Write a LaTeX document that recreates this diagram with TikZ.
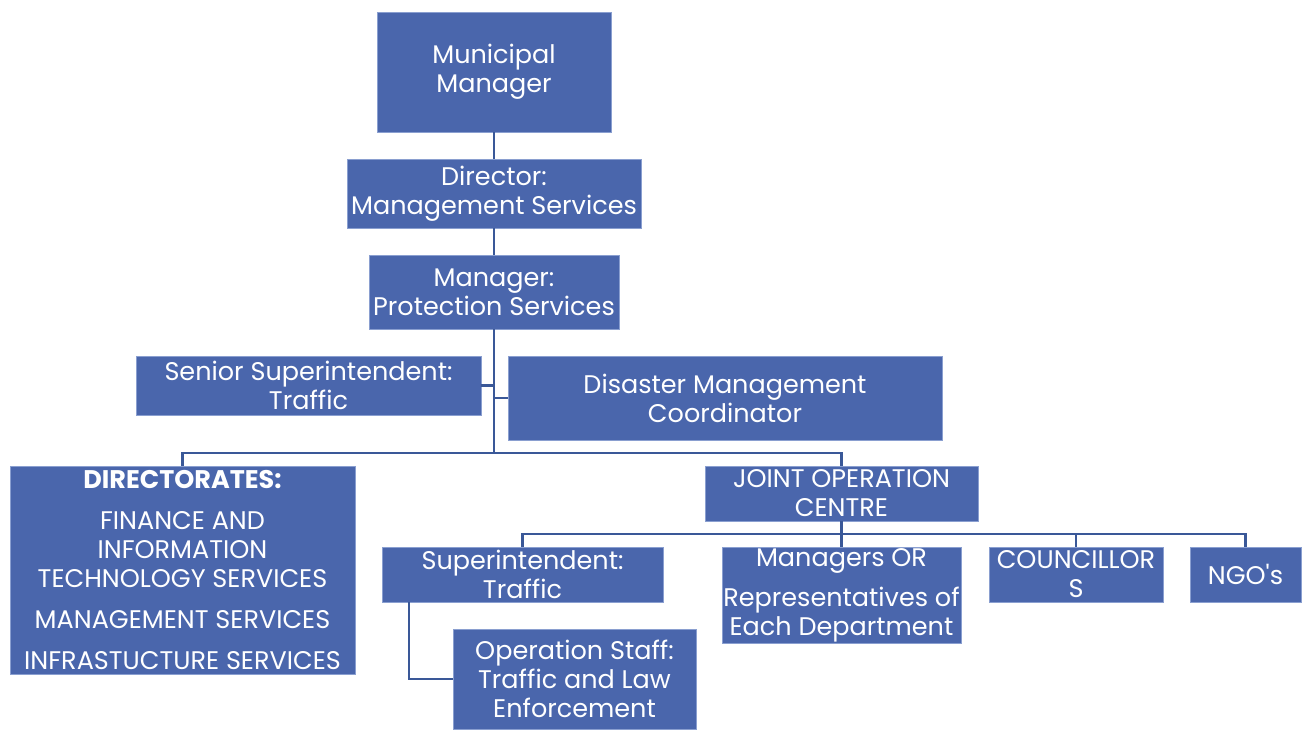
\documentclass[tikz,border=0pt]{standalone}
\usepackage{fontspec}
\setmainfont{Poppins}
\definecolor{boxfill}{HTML}{4A66AC}
\definecolor{boxedge}{HTML}{8A9FD0}
\definecolor{wire}{HTML}{3A5898}
\begin{document}
\begin{tikzpicture}[x=1pt,y=-1pt,
  unit/.style={draw=boxedge, line width=0.6pt, fill=boxfill, text=white,
    align=center, inner sep=0pt, font=\fontsize{25.5}{29}\selectfont},
  link/.style={draw=wire, line width=2.4pt}]
\useasboundingbox (0,0) rectangle (1304,729);

% boxes, sized from their corners
\node[unit, minimum width=234, minimum height=120] (mm)  at (494,72)    {Municipal\\Manager};
\node[unit, minimum width=294, minimum height=69]  (dir) at (494,193.5) {Director:\\Management Services};
\node[unit, minimum width=250, minimum height=74]  (mgr) at (494,292)   {Manager:\\Protection Services};
\node[unit, minimum width=345, minimum height=59]  (sst) at (308.5,385.5) {Senior Superintendent:\\Traffic};
\node[unit, minimum width=434, minimum height=84]  (dmc) at (725,398)   {Disaster Management\\Coordinator};
\node[unit, minimum width=345, minimum height=208] (dirs) at (182.5,570)
  {\textbf{DIRECTORATES:}\\[12pt]FINANCE AND\\INFORMATION\\TECHNOLOGY SERVICES\\[12pt]MANAGEMENT SERVICES\\[12pt]INFRASTUCTURE SERVICES};
\node[unit, minimum width=273, minimum height=55]  (joc) at (841.5,493.5) {JOINT OPERATION\\CENTRE};
\node[unit, minimum width=281, minimum height=55]  (sup) at (522.5,574.5) {Superintendent:\\Traffic};
\node[unit, minimum width=239, minimum height=96]  (rep) at (841.5,595)   {Managers OR\\[11pt]Representatives of\\Each Department};
\node[unit, minimum width=174, minimum height=55]  (cou) at (1076,574.5)  {COUNCILLOR\\S};
\node[unit, minimum width=111, minimum height=55]  (ngo) at (1245.5,574.5) {NGO\textquotesingle s};
\node[unit, minimum width=243, minimum height=100] (ops) at (574.5,679)   {Operation Staff:\\Traffic and Law\\Enforcement};

% bus lines
\coordinate (bus)  at (494,453);
\coordinate (jbus) at (841.5,534);

% connectors
\draw[link] (mm) -- (dir);
\draw[link] (dir) -- (mgr);
\draw[link] (mgr.south) -- (bus);
\draw[link] (sst.east) -- (sst.east -| mgr.south);
\draw[link] (dmc.west) -- (dmc.west -| mgr.south);
\draw[link] (dirs.north) |- (bus) -| (joc.north);
\draw[link] (joc.south) -- (jbus);
\draw[link] (sup.north) |- (jbus) -| (ngo.north);
\draw[link] (rep.north) -- (rep.north |- jbus);
\draw[link] (cou.north) -- (cou.north |- jbus);
\draw[link] ([xshift=27pt]sup.south west) |- (ops.west);
\end{tikzpicture}
\end{document}
